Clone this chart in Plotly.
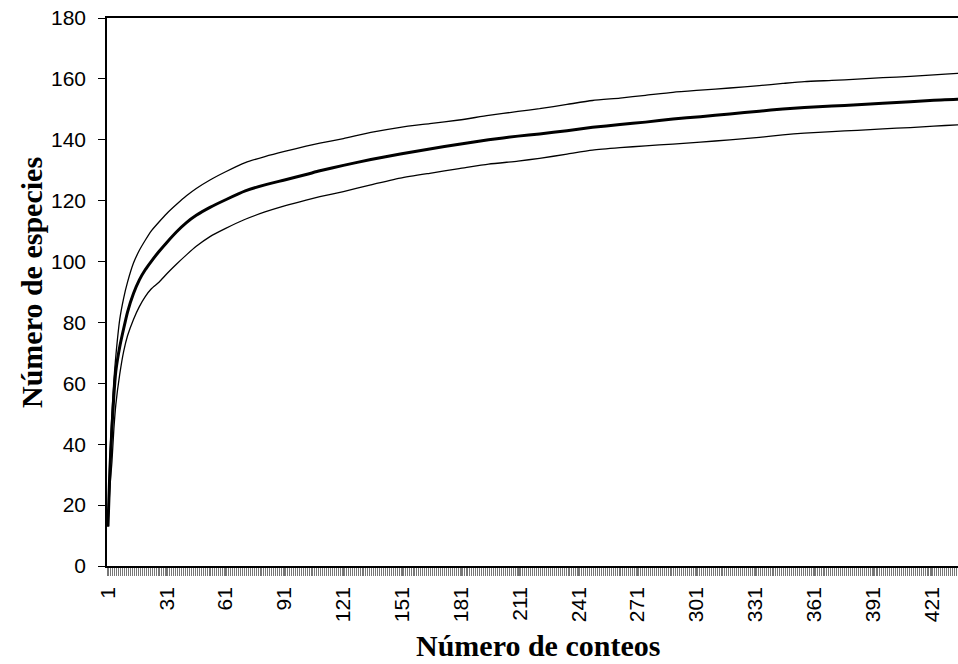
import plotly.graph_objects as go

# Category (conteo) numbers at which the curves were read
conteos = [1, 2, 3, 4, 5, 7, 9, 11, 14, 17, 20, 23, 27, 31, 36, 41, 46, 53, 61, 71,
           81, 91, 102, 109, 121, 135, 150, 165, 180, 195, 210, 221, 235, 248, 262,
           275, 289, 303, 318, 333, 345, 356, 370, 383, 396, 410, 422, 434, 437]

especies_media = [13, 32, 45, 56, 64, 72, 78, 83.5, 89.5, 94, 97.3, 100, 103.3, 106.3,
                  109.8, 112.8, 115.2, 117.8, 120.3, 123.2, 125.2, 126.8, 128.6, 129.8, 131.6,
                  133.5, 135.3, 137, 138.5, 140, 141.2, 141.9, 143, 144.1, 145, 145.8,
                  146.8, 147.6, 148.5, 149.4, 150.1, 150.6, 151.1, 151.5, 152, 152.5, 153,
                  153.3, 153.5]

especies_sup = [13, 36, 50, 61, 69, 81, 88, 93.3, 99.5, 103.7, 107, 110, 113, 115.8,
                118.8, 121.6, 124, 126.8, 129.5, 132.5, 134.5, 136.2, 137.9, 138.9, 140.4,
                142.4, 144.1, 145.3, 146.5, 148, 149.3, 150.2, 151.6, 152.9, 153.7,
                154.6, 155.6, 156.3, 157, 157.8, 158.5, 159.1, 159.5, 159.9, 160.4,
                160.8, 161.3, 161.8, 162]

especies_inf = [13, 26, 34, 45, 53, 63, 70.5, 75.7, 81, 85.2, 88.5, 91, 93.2, 96, 99.2,
                102.2, 105, 108.2, 110.9, 113.9, 116.3, 118.3, 120.2, 121.3, 123, 125.2,
                127.4, 129, 130.5, 132, 133, 133.9, 135.3, 136.6, 137.4, 138, 138.6,
                139.2, 140, 140.8, 141.6, 142.2, 142.7, 143.1, 143.6, 144, 144.5, 144.9,
                145]

y_ticks = list(range(0, 181, 20))

fig = go.Figure()
fig.add_trace(go.Scatter(x=conteos, y=especies_sup, mode="lines",
                         line=dict(color="black", width=1.3, shape="spline", smoothing=0.6),
                         showlegend=False))
fig.add_trace(go.Scatter(x=conteos, y=especies_inf, mode="lines",
                         line=dict(color="black", width=1.3, shape="spline", smoothing=0.6),
                         showlegend=False))
fig.add_trace(go.Scatter(x=conteos, y=especies_media, mode="lines",
                         line=dict(color="black", width=3, shape="spline", smoothing=0.6),
                         showlegend=False))

tick_font = dict(family="Liberation Sans, Arial, sans-serif", size=21, color="black")
title_font = dict(family="Liberation Serif, Times New Roman, serif", size=30, color="black")

fig.update_layout(
    width=958, height=664,
    margin=dict(l=107, r=0, t=18, b=98),
    paper_bgcolor="white", plot_bgcolor="white",
    xaxis=dict(
        range=[0.5, 434.3], tickmode="linear", tick0=1, dtick=30, tickangle=-90,
        ticks="outside", ticklen=8, tickcolor="#777", tickwidth=1,
        minor=dict(tickmode="linear", dtick=1, tick0=0.5, ticks="outside", ticklen=8,
                   tickcolor="#777", tickwidth=1),
        showline=True, linecolor="black", linewidth=1.5, mirror=True,
        showgrid=False, zeroline=False, tickfont=tick_font,
        ticklabelstandoff=3,
    ),
    yaxis=dict(
        range=[0, 180], tickmode="array", tickvals=y_ticks,
        ticks="outside", ticklen=7, tickcolor="black", tickwidth=1,
        showline=True, linecolor="black", linewidth=1.5,
        showgrid=False, zeroline=False, tickfont=tick_font,
        ticklabelstandoff=8,
    ),
    annotations=[
        dict(text="<b>Número de conteos</b>", xref="paper", yref="paper",
             x=(538 - 107) / 851, y=(566 - 645) / 548, xanchor="center",
             yanchor="middle", showarrow=False, font=title_font),
        dict(text="<b>Número de especies</b>", xref="paper", yref="paper",
             x=(31 - 107) / 851, y=(566 - 283) / 548, xanchor="center",
             yanchor="middle", showarrow=False, textangle=-90, font=title_font),
    ],
)

fig.write_html("out.html")
